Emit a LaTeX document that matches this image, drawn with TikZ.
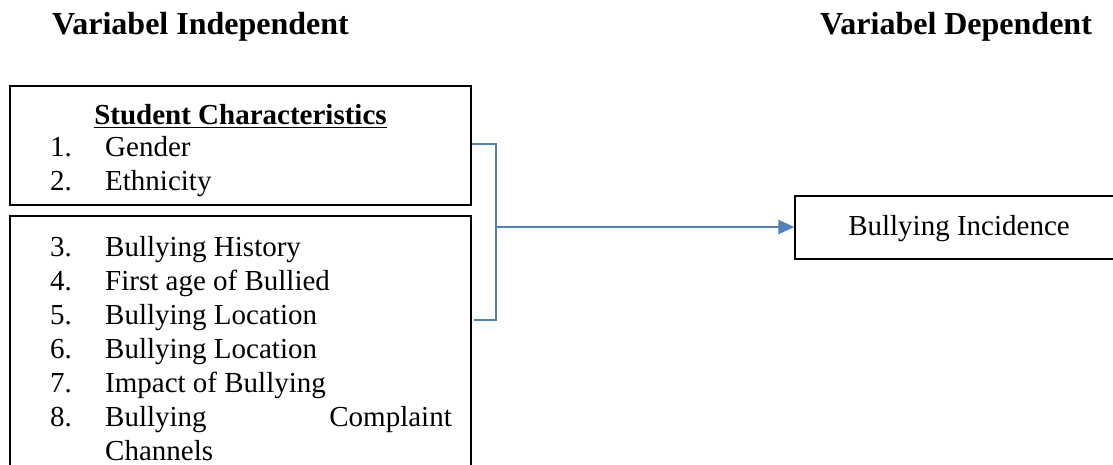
\documentclass[tikz,border=0pt]{standalone}
\usepackage{fontspec}
\setmainfont{Liberation Serif}
\usepackage{xcolor}
\usetikzlibrary{positioning}
\usetikzlibrary{arrows.meta}
\definecolor{linkblue}{HTML}{4F81BD}
\pgfdeclarelayer{nodelayer}
\pgfdeclarelayer{edgelayer}
\pgfsetlayers{nodelayer,edgelayer,main}
\tikzset{
    box/.style = {draw, line width=1.2pt, inner sep=0pt},
    txt/.style = {inner sep=0pt, anchor=base west, font=\fontsize{29}{34}\selectfont},
    head/.style = {txt, font=\fontsize{32}{38}\selectfont\bfseries},
    link/.style = {draw=linkblue, line width=1.8pt}
}

\begin{document}
\begin{tikzpicture}[x=1pt, y=-1pt]
    \useasboundingbox (0,0) rectangle (1113,465);
    \clip (0,0) rectangle (1113,465);
    \begin{pgfonlayer}{nodelayer}
        % Headings
        \node [head] (indep) at (52,35) {Variabel Independent};
        \node [head] (dep) at (820,35) {Variabel Dependent};
        % Boxes
        \node [box, minimum width=461pt, minimum height=119pt] (upper) at (240.5,145.5) {};
        \node [box, minimum width=461pt, minimum height=274pt] (lower) at (240.5,353) {};
        \node [box, minimum width=345pt, minimum height=63pt] (target) at (967.5,227.5) {};
        % Upper box text
        \node [txt, font=\fontsize{29}{34}\selectfont\bfseries, anchor=base] (title) at (240.5,125) {\underline{Student Characteristics}};
        \node [txt] (n1) at (50,157) {1.};
        \node [txt] (i1) at (105,157) {Gender};
        \node [txt] (n2) at (50,191) {2.};
        \node [txt] (i2) at (105,191) {Ethnicity};
        % Lower box text
        \foreach \n/\item [count=\i] in {3/Bullying History, 4/First age of Bullied,
            5/Bullying Location, 6/Bullying Location, 7/Impact of Bullying} {
            \node [txt] (n\n) at (50,{256+34*(\i-1)}) {\n.};
            \node [txt] (i\n) at (105,{256+34*(\i-1)}) {\item};
        }
        \node [txt] (n8) at (50,426) {8.};
        \node [txt] (i8a) at (105,426) {Bullying};
        \node [txt, anchor=base east] (i8b) at (452,426) {Complaint};
        \node [txt] (i8c) at (105,460) {Channels};
        % Target text
        \node [txt, anchor=base] (result) at (959,235) {Bullying Incidence};
    \end{pgfonlayer}
    \begin{pgfonlayer}{edgelayer}
        \coordinate (top) at (496,144);
        \coordinate (bot) at (496,320);
        \coordinate (botend) at (474,320);
        \coordinate (mid) at (496,227);
        % Bracket joining both boxes
        \draw [link] (upper.east |- top) -- (top) -- (bot) -- (botend);
        % Arrow to the dependent variable
        \draw [link, -{Triangle[length=16pt, width=14pt]}] (mid) -- (target.west |- mid);
    \end{pgfonlayer}
\end{tikzpicture}
\end{document}
